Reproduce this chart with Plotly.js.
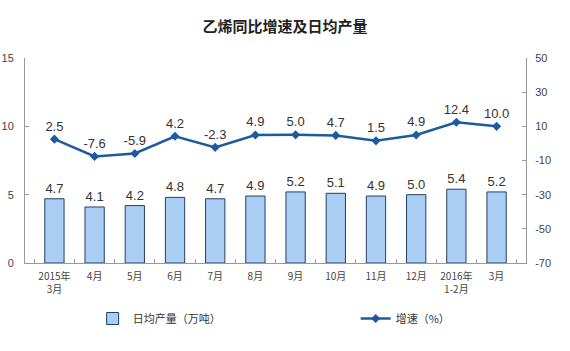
<!DOCTYPE html>
<html><head><meta charset="utf-8">
<script src="https://cdn.plot.ly/plotly-3.0.1.min.js"></script>
<style>body{margin:0;background:#fff}#c{width:570px;height:351px}</style>
</head><body><div id="c"></div>
<script>
var categories = ['2015年<br>3月','4月','5月','6月','7月','8月','9月','10月','11月','12月','2016年<br>1-2月','3月'];
var output = [4.7,4.1,4.2,4.8,4.7,4.9,5.2,5.1,4.9,5.0,5.4,5.2];
var growth = [2.5,-7.6,-5.9,4.2,-2.3,4.9,5.0,4.7,1.5,4.9,12.4,10.0];
var leftTicks = [0,5,10,15];
var rightTicks = [-70,-50,-30,-10,10,30,50];

var F = 'Liberation Sans, Arial, Noto Sans CJK SC, sans-serif';
var bar = {
  type:'bar', x:categories, y:output, name:'日均产量（万吨）', legend:'legend',
  width:0.48,
  marker:{color:'#a9cdf3', line:{color:'#243f66', width:1}},
  text:output.map(function(v){return v.toFixed(1);}), textposition:'outside',
  textfont:{size:13, color:'#333', family:F}, cliponaxis:false,
  hoverinfo:'none'
};
var line = {
  type:'scatter', x:categories, y:growth, yaxis:'y2', name:'增速（%）', legend:'legend2',
  mode:'lines+markers+text',
  line:{color:'#1e5b9e', width:2.5},
  marker:{symbol:'diamond', size:7, color:'#1e5b9e'},
  text:growth.map(function(v){return v.toFixed(1);}), textposition:'top center',
  textfont:{size:13, color:'#333', family:F}, cliponaxis:false,
  hoverinfo:'none'
};
var legFont = {family:'Noto Sans CJK SC, sans-serif', size:11, color:'#333'};
var layout = {
  width:570, height:351,
  margin:{l:25, r:44, t:58, b:88},
  paper_bgcolor:'#fff', plot_bgcolor:'#fff',
  font:{family:F, color:'#444', size:10},
  title:{text:'乙烯同比增速及日均产量', x:0.5, xanchor:'center', y:0.925, yanchor:'middle',
    font:{family:'Noto Sans CJK SC, sans-serif', size:15, color:'#222', weight:'bold'}},
  showlegend:true,
  legend:{orientation:'h', xref:'paper', x:0.135, xanchor:'left', y:-0.2, yanchor:'top', font:legFont},
  legend2:{orientation:'h', xref:'paper', x:0.66, xanchor:'left', y:-0.2, yanchor:'top', font:legFont},
  xaxis:{type:'category', showline:true, linecolor:'#999', linewidth:1,
    ticks:'inside', tickson:'boundaries', ticklen:4, tickcolor:'#999', tickangle:0,
    ticklabelstandoff:4,
    tickfont:{size:10, color:'#444', family:'Noto Sans CJK SC, sans-serif'},
    showgrid:false, zeroline:false, fixedrange:true},
  yaxis:{range:[0,15], tickvals:leftTicks, showline:true, linecolor:'#999', linewidth:1,
    ticks:'inside', ticklen:4, tickcolor:'#999', showgrid:false, zeroline:false,
    ticklabelstandoff:8, tickfont:{size:11, color:'#444'}},
  yaxis2:{range:[-70,50], tickvals:rightTicks, ticktext:rightTicks.map(String), overlaying:'y', side:'right',
    showline:true, linecolor:'#999', linewidth:1, ticks:'inside', ticklen:4, tickcolor:'#999',
    showgrid:false, zeroline:false, ticklabelstandoff:6, tickfont:{size:11, color:'#444'}}
};
Plotly.newPlot('c',[bar,line],layout,{displayModeBar:false, staticPlot:true});
</script></body></html>
